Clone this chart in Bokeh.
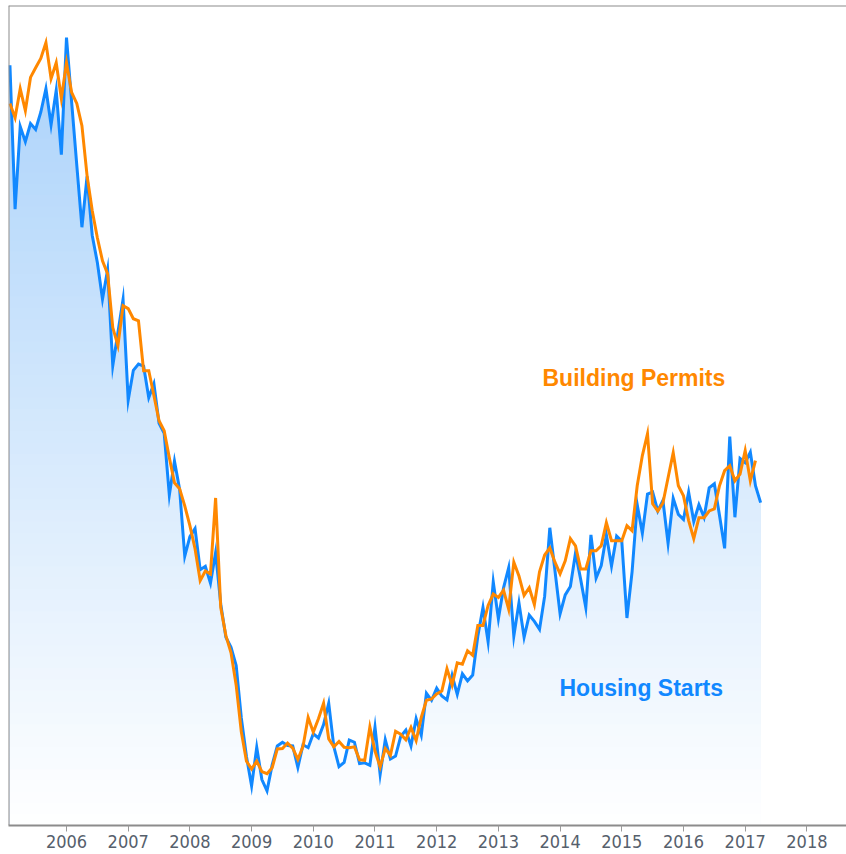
import numpy as np
from bokeh.plotting import figure
from bokeh.models import FixedTicker, Range1d, Span
from bokeh.core.properties import value
from bokeh.embed import file_html
from bokeh.resources import INLINE

# ---------------- data (thousands of units, SAAR), monthly from Feb 2005 ----------------
start_year = 2005
start_month = 2

housing_starts = [
    # 2005 Feb-Dec
    2207, 1864, 2061, 2025, 2068, 2054, 2095, 2151, 2065, 2147, 1994,
    # 2006
    2273, 2119, 1969, 1821, 1942, 1802, 1737, 1650, 1720, 1491, 1570, 1649,
    # 2007
    1409, 1480, 1495, 1490, 1415, 1448, 1354, 1330, 1183, 1264, 1197, 1037,
    # 2008
    1084, 1103, 1005, 1013, 973, 1046, 923, 844, 820, 777, 652, 560,
    # 2009
    490, 582, 505, 478, 540, 585, 594, 586, 585, 534, 588, 581,
    # 2010
    614, 604, 636, 687, 583, 536, 546, 599, 594, 543, 545, 539,
    # 2011
    630, 517, 600, 554, 561, 608, 623, 585, 650, 611, 711, 694,
    # 2012
    723, 704, 695, 753, 708, 757, 740, 754, 847, 915, 833, 976,
    # 2013
    888, 962, 1010, 847, 926, 844, 897, 882, 863, 942, 1105, 1003,
    # 2014
    900, 945, 965, 1045, 982, 915, 1088, 985, 1015, 1088, 1014, 1085,
    # 2015
    1073, 890, 1000, 1160, 1092, 1185, 1190, 1145, 1170, 1068, 1175, 1137,
    # 2016
    1125, 1190, 1120, 1160, 1130, 1200, 1210, 1135, 1056, 1322, 1130, 1270,
    # 2017 Jan-Apr
    1260, 1285, 1205, 1165,
]

building_permits = [
    # 2005 Feb-Dec
    2116, 2082, 2151, 2099, 2178, 2201, 2223, 2261, 2175, 2213, 2128,
    # 2006
    2213, 2142, 2116, 2063, 1944, 1861, 1796, 1741, 1710, 1582, 1539, 1634,
    # 2007
    1627, 1603, 1598, 1479, 1479, 1420, 1360, 1336, 1272, 1212, 1198, 1157,
    # 2008
    1110, 1055, 979, 1002, 995, 1176, 915, 848, 807, 730, 619, 549,
    # 2009
    530, 549, 524, 519, 533, 578, 579, 592, 580, 553, 584, 653,
    # 2010
    618, 650, 687, 602, 583, 596, 582, 581, 583, 552, 551, 630,
    # 2011
    573, 535, 579, 563, 620, 613, 600, 629, 598, 653, 694, 697,
    # 2012
    709, 716, 769, 730, 783, 780, 812, 801, 872, 872, 920, 947,
    # 2013
    939, 956, 911, 1023, 990, 944, 962, 922, 1000, 1040, 1057, 1023,
    # 2014
    995, 1026, 1079, 1062, 1007, 1007, 1050, 1050, 1062, 1117, 1074, 1074,
    # 2015
    1074, 1110, 1098, 1205, 1277, 1329, 1162, 1145, 1164, 1224, 1284, 1205,
    # 2016
    1181, 1122, 1079, 1129, 1129, 1145, 1150, 1205, 1241, 1253, 1217, 1233,
    # 2017 Jan-Mar
    1289, 1217, 1265,
]

tick_years = list(range(2006, 2019))
tick_labels = [str(y) for y in tick_years]

series_names = ["Housing Starts", "Building Permits"]

# ---------------- styling ----------------
BLUE = "#1188ff"
ORANGE = "#ff8800"
BORDER = "#8c8c8c"
FILL_TOP = (170, 210, 250)
FILL_BOTTOM = (255, 255, 255)
X_START, X_END = 2005.060, 2018.642
Y_START, Y_END = 395.6, 2349.3


def month_positions(n):
    return np.array([start_year + (start_month - 1 + i) / 12.0 for i in range(n)])


hs = np.array(housing_starts, dtype=float)
bp = np.array(building_permits, dtype=float)
x_hs = month_positions(len(hs))
x_bp = month_positions(len(bp))

p = figure(
    width=846, height=854,
    x_range=Range1d(X_START, X_END), y_range=Range1d(Y_START, Y_END),
    output_backend="svg", toolbar_location=None,
    y_axis_location=None,
    min_border_left=8, min_border_right=0, min_border_top=5, min_border_bottom=29,
    background_fill_color="white", border_fill_color="white",
)
p.outline_line_color = None
p.xgrid.visible = False
p.ygrid.visible = False

ax = p.xaxis[0]
ax.ticker = FixedTicker(ticks=tick_years)
ax.major_label_overrides = {y: lab for y, lab in zip(tick_years, tick_labels)}
ax.axis_line_color = BORDER
ax.axis_line_width = 2
ax.major_tick_line_color = "#9a9a9a"
ax.major_tick_line_width = 1
ax.major_tick_in = 0
ax.major_tick_out = 6
ax.minor_tick_line_color = None
ax.major_label_standoff = 3
ax.major_label_text_font = "DejaVu Sans Condensed"
ax.major_label_text_font_size = "18px"
ax.major_label_text_color = "#56606c"

# frame borders on the left and top (the right side runs past the picture)
p.add_layout(Span(location=X_START, dimension="height", line_color=BORDER, line_width=2))
p.add_layout(Span(location=Y_END, dimension="width", line_color=BORDER, line_width=2))

# ---------------- gradient area under Housing Starts ----------------
peak = hs.max()
base = Y_START
n_bands = 70
levels = np.linspace(base, peak, n_bands + 1)


def band_color(v):
    t = (v - Y_START) / (peak - Y_START)
    t = min(max(t, 0.0), 1.0)
    r = int(round(FILL_BOTTOM[0] + (FILL_TOP[0] - FILL_BOTTOM[0]) * t))
    g = int(round(FILL_BOTTOM[1] + (FILL_TOP[1] - FILL_BOTTOM[1]) * t))
    b = int(round(FILL_BOTTOM[2] + (FILL_TOP[2] - FILL_BOTTOM[2]) * t))
    return "#%02x%02x%02x" % (r, g, b)


for k in range(n_bands, 0, -1):
    mid = 0.5 * (levels[k - 1] + levels[k])
    top = hs if k == n_bands else np.minimum(hs, levels[k])
    p.varea(x=x_hs, y1=np.full_like(hs, base - 50), y2=top,
            fill_color=band_color(mid), fill_alpha=1.0)

# ---------------- lines ----------------
p.line(x_hs, hs, line_color=BLUE, line_width=3, line_join="miter")
p.line(x_bp, bp, line_color=ORANGE, line_width=3, line_join="miter")

# ---------------- in-chart labels ----------------
p.text(x=[2013.715], y=[1462.0], text=[series_names[1]],
       text_font=value("Liberation Sans"), text_font_style="bold",
       text_font_size="23px", text_color=ORANGE,
       text_align="left", text_baseline="alphabetic")
p.text(x=[2013.99], y=[723.5], text=[series_names[0]],
       text_font=value("Liberation Sans"), text_font_style="bold",
       text_font_size="23px", text_color=BLUE,
       text_align="left", text_baseline="alphabetic")

open("out.html", "w").write(file_html(p, INLINE))
